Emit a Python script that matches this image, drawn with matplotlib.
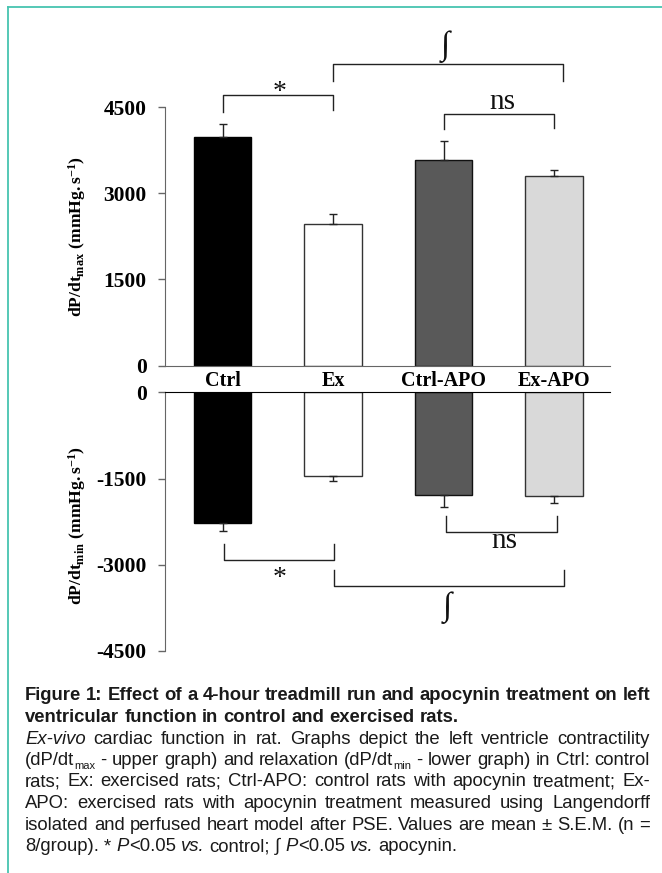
import matplotlib
matplotlib.use('Agg')
import matplotlib.pyplot as plt
from matplotlib.transforms import IdentityTransform
from matplotlib.lines import Line2D

plt.rcParams['axes.unicode_minus'] = False
plt.rcParams['mathtext.fontset'] = 'custom'
plt.rcParams['mathtext.rm'] = 'Liberation Serif:bold'
plt.rcParams['mathtext.bf'] = 'Liberation Serif:bold'
plt.rcParams['mathtext.it'] = 'Liberation Serif:bold'

# ---------------- data ----------------
categories = ['Ctrl', 'Ex', 'Ctrl-APO', 'Ex-APO']
dpdt_max = [3990, 2470, 3590, 3310]
dpdt_max_sem = [225, 170, 320, 105]
dpdt_min = [-2275, -1455, -1780, -1797]
dpdt_min_sem = [140, 90, 210, 120]
upper_ticks = [0, 1500, 3000, 4500]
lower_ticks = [-4500, -3000, -1500, 0]
bar_colors = ['#000000', '#ffffff', '#595959', '#d9d9d9']
edge_colors = ['#000000', '#333333', '#111111', '#333333']

# ---------------- layout ----------------
W, H = 662, 873
fig = plt.figure(figsize=(W / 100, H / 100), dpi=100)

def fx(px):
    return px / W

def fy(py):
    return 1 - py / H

x0_px, x1_px = 164.7, 610.0
cat0_px, step_px = 222.5, 110.5
xlim = ((x0_px - cat0_px) / step_px, (x1_px - cat0_px) / step_px)

ax_up = fig.add_axes([fx(x0_px), fy(365.5), (x1_px - x0_px) / W, (365.5 - 107.3) / H])
ax_lo = fig.add_axes([fx(x0_px), fy(651.0), (x1_px - x0_px) / W, (651.0 - 392.3) / H])

serif_b = dict(fontfamily='Liberation Serif', fontweight='bold')
axis_gray = '#666666'
xs = list(range(len(categories)))

for ax, vals, sem, ticks, lim in [
        (ax_up, dpdt_max, dpdt_max_sem, upper_ticks, (0, 4500)),
        (ax_lo, dpdt_min, dpdt_min_sem, lower_ticks, (-4500, 0))]:
    ax.bar(xs, vals, width=0.52, color=bar_colors, edgecolor=edge_colors,
           linewidth=1.0, zorder=2)
    if ax is ax_up:
        yerr = [[0] * len(sem), sem]
    else:
        yerr = [sem, [0] * len(sem)]
    ax.errorbar(xs, vals, yerr=yerr, fmt='none', ecolor='#222222',
                elinewidth=1.0, capsize=3, capthick=1.0, zorder=3)
    ax.set_xlim(*xlim)
    ax.set_ylim(*lim)
    ax.set_yticks(ticks)
    ax.set_yticklabels([str(t) for t in ticks], fontsize=15.5, **serif_b)
    ax.tick_params(axis='y', direction='out', length=5, width=1,
                   color=axis_gray, pad=8)
    ax.spines['right'].set_visible(False)
    ax.spines['left'].set_color(axis_gray)
    ax.set_facecolor('none')

ax_up.spines['top'].set_visible(False)
ax_up.spines['bottom'].set_color(axis_gray)
ax_up.set_xticks(xs)
ax_up.set_xticklabels(categories, fontsize=14.5, **serif_b)
ax_up.tick_params(axis='x', length=0, pad=4)

ax_lo.spines['bottom'].set_visible(False)
ax_lo.spines['top'].set_color('#000000')
ax_lo.set_xticks([])

# y axis labels
fig.text(fx(77), fy(236.5), r'$\mathbf{dP/dt_{max}\ (mmHg.s^{-1})}$',
         rotation=90, ha='center', va='center', fontsize=12.6)
fig.text(fx(77), fy(526.0), r'$\mathbf{dP/dt_{min}\ (mmHg.s^{-1})}$',
         rotation=90, ha='center', va='center', fontsize=12.6)

# ---------------- significance brackets ----------------
br_kw = dict(color='#222222', lw=1.0, clip_on=False, zorder=4)

def bracket(ax, xa, xb, ya, yb, yh):
    ax.plot([xa, xa, xb, xb], [ya, yh, yh, yb], **br_kw)

sym_kw = dict(fontfamily='Liberation Serif', ha='center', clip_on=False, color='#111111')

# upper graph
bracket(ax_up, 0.0, 1.0, 4420, 4450, 4715)
ax_up.text(0.52, 4640, '*', va='baseline', fontsize=20, **sym_kw)
bracket(ax_up, 1.0, 3.08, 4964, 4964, 5250)
ax_up.text(2.02, 5551, '\u222b', va='center', fontsize=24, **sym_kw)
bracket(ax_up, 2.0, 3.0, 4122, 4139, 4389)
ax_up.text(2.53, 4470, 'ns', va='baseline', fontsize=21, **sym_kw)

# lower graph
bracket(ax_lo, 0.01, 1.01, -2638, -2638, -2916)
ax_lo.text(0.52, -3360, '*', va='baseline', fontsize=20, **sym_kw)
bracket(ax_lo, 1.01, 3.09, -3090, -3090, -3374)
ax_lo.text(2.03, -3751, '\u222b', va='center', fontsize=24, **sym_kw)
bracket(ax_lo, 2.02, 3.03, -2151, -2151, -2424)
ax_lo.text(2.55, -2705, 'ns', va='baseline', fontsize=21, **sym_kw)

# ---------------- border ----------------
teal = '#47c4b0'
fig.add_artist(Line2D([8.3, W], [H - 6.5, H - 6.5], color=teal, lw=1.3,
                      transform=IdentityTransform()))
fig.add_artist(Line2D([8.3, 8.3], [H - 6.5, 0], color=teal, lw=1.3,
                      transform=IdentityTransform()))

# ---------------- caption (justified) ----------------
caption_lines = [
    ("Figure 1: Effect of a 4-hour treadmill run and apocynin treatment on left", 'b', True),
    ("ventricular function in control and exercised rats.", 'b', False),
    ("~Ex-vivo~ cardiac function in rat. Graphs depict the left ventricle contractility", 'n', True),
    ("(dP/dt_{max} - upper graph) and relaxation (dP/dt_{min} - lower graph) in Ctrl: control", 'n', True),
    ("rats; Ex: exercised rats; Ctrl-APO: control rats with apocynin treatment; Ex-", 'n', True),
    ("APO: exercised rats with apocynin treatment measured using Langendorff", 'n', True),
    ("isolated and perfused heart model after PSE. Values are mean \u00b1 S.E.M. (n =", 'n', True),
    ("8/group). * ~P~<0.05 ~vs.~ control; \u222b ~P~<0.05 ~vs.~ apocynin.", 'n', False),
]
cap_left, cap_right = 25.0, 650.0
cap_first_baseline, cap_step = 700.5, 21.5
cap_size, sub_size = 13.3, 8.0

renderer = fig.canvas.get_renderer()


def parse_word(word, base):
    runs, buf, italic, i = [], '', False, 0
    while i < len(word):
        if word[i] == '~':
            if buf:
                runs.append((buf, 'i' if italic else base))
                buf = ''
            italic = not italic
            i += 1
        elif word.startswith('_{', i):
            if buf:
                runs.append((buf, 'i' if italic else base))
                buf = ''
            j = word.index('}', i)
            runs.append((word[i + 2:j], 'sub'))
            i = j + 1
        else:
            buf += word[i]
            i += 1
    if buf:
        runs.append((buf, 'i' if italic else base))
    return runs


def make_text(s, style):
    kw = dict(fontfamily=['Liberation Sans', 'DejaVu Sans'], fontsize=cap_size,
              color='#1a1a1a', transform=IdentityTransform(), va='baseline', ha='left')
    if style == 'b':
        kw['fontweight'] = 'bold'
    elif style == 'i':
        kw['fontstyle'] = 'italic'
    elif style == 'sub':
        kw['fontsize'] = sub_size
    return fig.text(0, 0, s, **kw)


def text_width(s, style):
    t = make_text(s, style)
    w = t.get_window_extent(renderer).width
    t.remove()
    return w


for li, (line, base, justify) in enumerate(caption_lines):
    baseline = H - (cap_first_baseline + li * cap_step)
    words = [parse_word(w, base) for w in line.split(' ')]
    word_texts = []
    widths = []
    for runs in words:
        items = []
        tot = 0.0
        for s, st in runs:
            t = make_text(s, st)
            w = t.get_window_extent(renderer).width
            items.append((t, st, tot))
            tot += w
        word_texts.append(items)
        widths.append(tot)
    if justify and len(words) > 1:
        gap = (cap_right - cap_left - sum(widths)) / (len(words) - 1)
    else:
        gap = text_width('a a', base) - text_width('aa', base)
    x = cap_left
    for items, w in zip(word_texts, widths):
        for t, st, off in items:
            dy = -4.0 if st == 'sub' else 0.0
            t.set_position((x + off, baseline + dy))
        x += w + gap

fig.savefig('out.png', dpi=100)
